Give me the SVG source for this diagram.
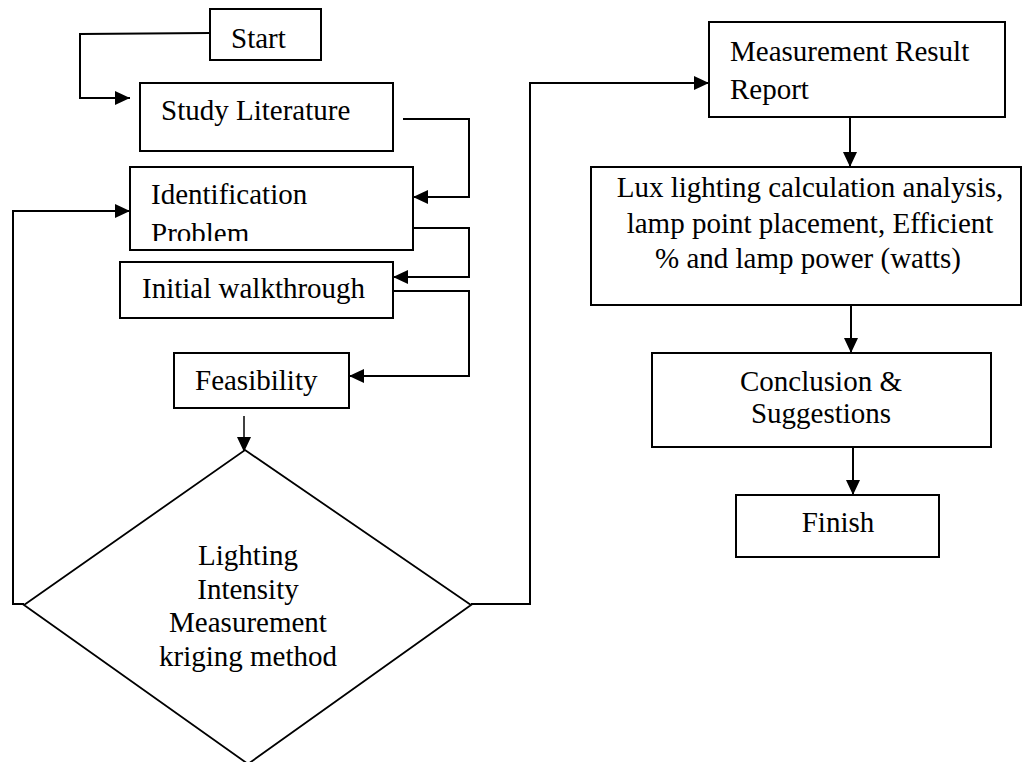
<svg xmlns="http://www.w3.org/2000/svg" width="1024" height="762" viewBox="0 0 1024 762">
<style>
.box{fill:#fff;stroke:#000;stroke-width:2}
.dia{fill:#fff;stroke:#000;stroke-width:1.8}
.t{font-family:"Liberation Serif","Times New Roman",serif;font-size:29px;fill:#000}
.c{text-anchor:middle}
.ln{fill:none;stroke:#000;stroke-width:2}
.ar{marker-end:url(#ah)}
</style>
<defs>
<marker id="ah" markerUnits="userSpaceOnUse" markerWidth="15" markerHeight="14" refX="15" refY="7" orient="auto">
<path d="M0,0 L15,7 L0,14 z" fill="#000"/>
</marker>
<clipPath id="clipId"><rect x="131" y="168" width="281" height="73"/></clipPath>
</defs>
<rect width="1024" height="762" fill="#fff"/>
<g id="connectors">
<path class="ln ar" d="M210,33 L80,34 L80,98 L130,98"/>
<path class="ln ar" d="M403,119 L469,119 L469,197 L413,197"/>
<path class="ln ar" d="M413,228 L469,228 L469,277 L393,277"/>
<path class="ln ar" d="M393,291 L469,291 L469,376 L349,376"/>
<path class="ln ar" d="M244,416 L244,452" style="stroke-width:1.5"/>
<path class="ln ar" d="M24,604 L13,604 L13,211 L130,211"/>
<path class="ln ar" d="M471,604 L530,604 L530,83 L709,83"/>
<path class="ln ar" d="M850,117 L850,167"/>
<path class="ln ar" d="M851,305 L851,353"/>
<path class="ln ar" d="M853,447 L853,495"/>
</g>
<g id="start">
<rect class="box" x="210" y="9" width="111" height="51"/>
<text class="t" x="231" y="48">Start</text>
</g>
<g id="study">
<rect class="box" x="140" y="83" width="253" height="68"/>
<text class="t" x="161" y="120">Study Literature</text>
</g>
<g id="identification">
<rect class="box" x="130" y="167" width="283" height="83"/>
<text class="t" x="151" y="204">Identification</text>
<text class="t" x="151" y="243" clip-path="url(#clipId)">Problem</text>
</g>
<g id="walkthrough">
<rect class="box" x="120" y="262" width="273" height="56"/>
<text class="t" x="142" y="298">Initial walkthrough</text>
</g>
<g id="feasibility">
<rect class="box" x="174" y="353" width="175" height="55"/>
<text class="t" x="195" y="390">Feasibility</text>
</g>
<g id="measurement">
<polygon class="dia" points="245,450 471,605 248,764 24,605"/>
<text class="t c" x="248" y="565">Lighting</text>
<text class="t c" x="248" y="599">Intensity</text>
<text class="t c" x="248" y="632">Measurement</text>
<text class="t c" x="248" y="666">kriging method</text>
</g>
<g id="report">
<rect class="box" x="709" y="22" width="296" height="95"/>
<text class="t" x="730" y="61">Measurement Result</text>
<text class="t" x="730" y="99">Report</text>
</g>
<g id="analysis">
<rect class="box" x="591" y="167" width="430" height="138"/>
<text class="t c" x="810" y="197">Lux lighting calculation analysis,</text>
<text class="t c" x="810" y="233">lamp point placement, Efficient</text>
<text class="t c" x="808" y="268">% and lamp power (watts)</text>
</g>
<g id="conclusion">
<rect class="box" x="652" y="353" width="339" height="94"/>
<text class="t c" x="821" y="391">Conclusion &amp;</text>
<text class="t c" x="821" y="423">Suggestions</text>
</g>
<g id="finish">
<rect class="box" x="736" y="495" width="203" height="62"/>
<text class="t c" x="838" y="532">Finish</text>
</g>
</svg>
